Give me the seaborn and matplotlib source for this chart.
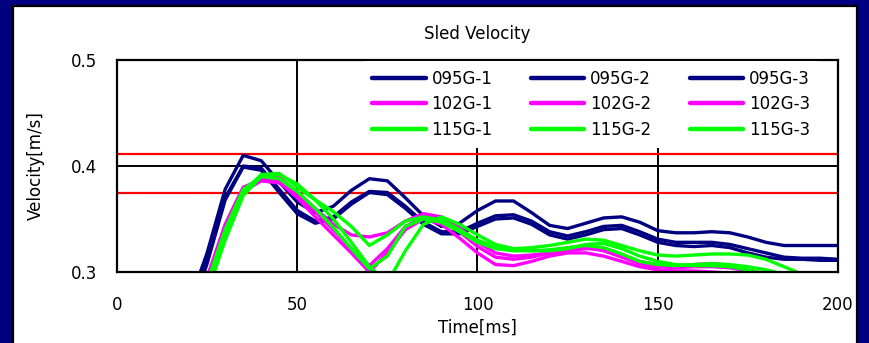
import matplotlib
matplotlib.use("Agg")
import matplotlib.pyplot as plt
from matplotlib.patches import Rectangle
import seaborn as sns
import pandas as pd

# ---------------- data ----------------
time_ms = [20, 25, 30, 35, 40, 45, 50, 55, 60, 65, 70, 75, 80, 85, 90, 95, 100,
           105, 110, 115, 120, 125, 130, 135, 140, 145, 150, 155, 160, 165, 170,
           175, 180, 185, 190, 195, 200]

v_095G_1 = [0.270, 0.318, 0.378, 0.410, 0.405, 0.385, 0.366, 0.356, 0.362, 0.377,
            0.388, 0.386, 0.370, 0.353, 0.343, 0.346, 0.358, 0.367, 0.367, 0.356,
            0.344, 0.341, 0.346, 0.351, 0.352, 0.347, 0.339, 0.337, 0.337, 0.338,
            0.337, 0.333, 0.328, 0.325, 0.325, 0.325, 0.325]
v_095G_2 = [0.260, 0.310, 0.370, 0.400, 0.398, 0.378, 0.358, 0.348, 0.352, 0.366,
            0.376, 0.375, 0.362, 0.347, 0.338, 0.338, 0.346, 0.353, 0.354, 0.348,
            0.338, 0.334, 0.338, 0.343, 0.344, 0.338, 0.331, 0.328, 0.328, 0.328,
            0.326, 0.322, 0.318, 0.314, 0.313, 0.313, 0.312]
v_095G_3 = [0.258, 0.308, 0.368, 0.399, 0.396, 0.375, 0.355, 0.346, 0.350, 0.364,
            0.375, 0.373, 0.360, 0.345, 0.336, 0.336, 0.343, 0.350, 0.351, 0.345,
            0.335, 0.331, 0.335, 0.340, 0.341, 0.335, 0.328, 0.325, 0.324, 0.325,
            0.323, 0.318, 0.314, 0.312, 0.312, 0.311, 0.311]

v_102G_1 = [0.240, 0.290, 0.342, 0.378, 0.388, 0.389, 0.375, 0.360, 0.345, 0.335,
            0.333, 0.337, 0.348, 0.355, 0.352, 0.342, 0.328, 0.318, 0.315, 0.316,
            0.318, 0.320, 0.322, 0.322, 0.316, 0.310, 0.307, 0.306, 0.307, 0.308,
            0.306, 0.302, 0.298, 0.294, 0.290, 0.286, 0.283]
v_102G_2 = [0.245, 0.295, 0.345, 0.380, 0.387, 0.385, 0.370, 0.352, 0.335, 0.318,
            0.300, 0.318, 0.340, 0.350, 0.345, 0.332, 0.318, 0.307, 0.306, 0.310,
            0.315, 0.318, 0.318, 0.315, 0.310, 0.305, 0.302, 0.301, 0.301, 0.300,
            0.299, 0.296, 0.292, 0.288, 0.284, 0.280, 0.277]
v_102G_3 = [0.240, 0.290, 0.340, 0.376, 0.386, 0.384, 0.372, 0.357, 0.340, 0.322,
            0.306, 0.322, 0.343, 0.352, 0.350, 0.338, 0.324, 0.314, 0.312, 0.314,
            0.318, 0.321, 0.323, 0.320, 0.314, 0.308, 0.305, 0.304, 0.305, 0.305,
            0.304, 0.301, 0.298, 0.294, 0.290, 0.286, 0.283]

v_115G_1 = [0.240, 0.285, 0.335, 0.375, 0.392, 0.393, 0.380, 0.368, 0.357, 0.343,
            0.325, 0.335, 0.348, 0.352, 0.349, 0.340, 0.330, 0.324, 0.322, 0.323,
            0.325, 0.328, 0.331, 0.330, 0.325, 0.320, 0.316, 0.315, 0.316, 0.317,
            0.317, 0.316, 0.312, 0.305, 0.298, 0.290, 0.285]
v_115G_2 = [0.230, 0.280, 0.330, 0.372, 0.390, 0.392, 0.383, 0.368, 0.350, 0.328,
            0.305, 0.290, 0.320, 0.345, 0.352, 0.345, 0.335, 0.326, 0.322, 0.320,
            0.320, 0.322, 0.326, 0.327, 0.322, 0.315, 0.310, 0.307, 0.306, 0.306,
            0.305, 0.302, 0.298, 0.294, 0.290, 0.286, 0.282]
v_115G_3 = [0.235, 0.290, 0.340, 0.378, 0.390, 0.388, 0.376, 0.360, 0.342, 0.322,
            0.303, 0.315, 0.343, 0.350, 0.347, 0.338, 0.328, 0.322, 0.320, 0.320,
            0.321, 0.323, 0.325, 0.323, 0.317, 0.310, 0.307, 0.306, 0.307, 0.308,
            0.307, 0.305, 0.302, 0.298, 0.294, 0.290, 0.286]

series = {
    "095G-1": v_095G_1, "095G-2": v_095G_2, "095G-3": v_095G_3,
    "102G-1": v_102G_1, "102G-2": v_102G_2, "102G-3": v_102G_3,
    "115G-1": v_115G_1, "115G-2": v_115G_2, "115G-3": v_115G_3,
}
ref_levels = [0.411, 0.375]
x_ticks = [0, 50, 100, 150, 200]
y_ticks = [0.3, 0.4, 0.5]

NAVY, MAG, LIME = "#000080", "#FF00FF", "#00FF00"
palette = {k: (NAVY if k.startswith("095") else MAG if k.startswith("102") else LIME)
           for k in series}

rows = []
for name, vals in series.items():
    for t, v in zip(time_ms, vals):
        rows.append({"Time": t, "Velocity": v, "Series": name})
df = pd.DataFrame(rows)

# ---------------- figure ----------------
sns.set_theme(style="white")
plt.rcParams["font.family"] = ["DejaVu Sans"]
plt.rcParams["text.color"] = "black"
plt.rcParams["axes.labelcolor"] = "black"
FS = 12

fig = plt.figure(figsize=(8.69, 3.43), dpi=100)
fig.patch.set_facecolor(NAVY)
fig.patches.append(Rectangle((13 / 869, -0.05), (857 - 13) / 869, 1 - 5.5 / 343 + 0.05,
                             transform=fig.transFigure, facecolor="white",
                             edgecolor="black", linewidth=1.6, zorder=-10))

ax = fig.add_axes([117 / 869, 1 - 272 / 343, (838 - 117) / 869, (272 - 60) / 343])
ax.set_facecolor("white")

sns.lineplot(data=df, x="Time", y="Velocity", hue="Series",
             hue_order=list(series.keys()), palette=palette,
             linewidth=2.4, ax=ax, legend=True, estimator=None)

for lv in ref_levels:
    ax.axhline(lv, color="#FF0000", linewidth=1.6, zorder=1)

ax.set_xlim(0, 200)
ax.set_ylim(0.3, 0.5)
ax.set_xticks(x_ticks)
ax.set_yticks(y_ticks)
ax.set_xticklabels([str(t) for t in x_ticks])
ax.set_yticklabels([f"{t:.1f}" for t in y_ticks])
ax.tick_params(axis="x", length=0, pad=17, labelsize=FS, colors="black")
ax.tick_params(axis="y", length=0, pad=14, labelsize=FS, colors="black")

for xv in [50, 100, 150]:
    ax.axvline(xv, color="black", linewidth=1.4, zorder=0.5)
ax.axhline(0.4, color="black", linewidth=1.4, zorder=0.5)

for sp in ax.spines.values():
    sp.set_color("black")
    sp.set_linewidth(1.6)
    sp.set_visible(True)

ax.set_xlabel("Time[ms]", fontsize=FS, labelpad=4, color="black")
ax.set_ylabel("Velocity[m/s]", fontsize=FS, labelpad=19, color="black")
ax.set_title("Sled Velocity", fontsize=FS, pad=15, color="black")

handles, labels = ax.get_legend_handles_labels()
hmap = dict(zip(labels, handles))
order = ["095G-1", "102G-1", "115G-1", "095G-2", "102G-2", "115G-2",
         "095G-3", "102G-3", "115G-3"]
leg = ax.legend([hmap[k] for k in order], order, ncol=3, loc="upper left",
                bbox_to_anchor=(363 / 869, 1 - 60.5 / 343),
                bbox_transform=fig.transFigure,
                frameon=True, facecolor="white",
                edgecolor="white", framealpha=1.0, fontsize=FS,
                handlelength=3.2, handletextpad=0.36, columnspacing=2.3,
                labelspacing=0.45, borderpad=0.55, borderaxespad=0.0,
                labelcolor="black")
for lh in leg.get_lines():
    lh.set_linewidth(3.2)
leg.get_frame().set_linewidth(0)

fig.savefig("out.png", dpi=100, facecolor=NAVY)
